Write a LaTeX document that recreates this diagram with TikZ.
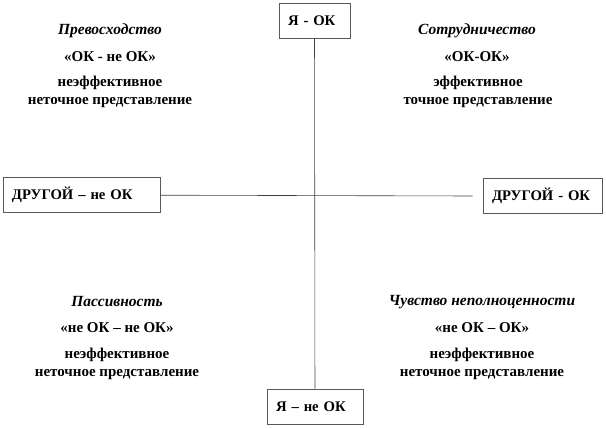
\documentclass[tikz,border=0pt]{standalone}
\usepackage{fontspec}
\setmainfont{Liberation Serif}
\usepackage{tikz}
\usetikzlibrary{positioning}

\begin{document}
\begin{tikzpicture}[
    x=1pt, y=-1pt,
    box/.style={draw=black!65, line width=0.6pt, minimum height=35pt, inner xsep=9pt, align=left, font=\bfseries\fontsize{14.7}{16}\selectfont},
    title/.style={font=\bfseries\itshape\fontsize{15.5}{17}\selectfont},
    motto/.style={font=\bfseries\fontsize{15}{17}\selectfont},
    desc/.style={align=center, font=\bfseries\fontsize{15}{18}\selectfont},
    axis/.style={line width=0.6pt, black!75}
]
    \useasboundingbox (0,0) rectangle (606,428);

    % Axis boxes
    \node[box, text width=53pt] (meok) at (314.5,21) {Я - ОК};
    \node[box, text width=78pt] (menotok) at (315,406.5) {Я – не ОК};
    \node[box, text width=139pt] (othernotok) at (81.5,195) {ДРУГОЙ – не ОК};
    \node[box, text width=101pt] (otherok) at (542.5,196) {ДРУГОЙ - ОК};

    % Axes
    \coordinate[left=10pt of otherok] (gap);
    \draw[axis] (meok) -- (menotok);
    \draw[axis] (othernotok) -- (gap);

    % Upper left
    \node[title] (superior) at (110,31) {Превосходство};
    \node[motto] (superiorm) at (110,57) {«ОК - не ОК»};
    \node[desc] (superiord) at (110,92) {неэффективное\\неточное представление};

    % Upper right
    \node[title] (cooperation) at (477,31) {Сотрудничество};
    \node[motto] (cooperationm) at (477,57) {«ОК-ОК»};
    \node[desc] (cooperationd) at (478,92) {эффективное\\точное представление};

    % Lower left
    \node[title] (passive) at (117,302) {Пассивность};
    \node[motto] (passivem) at (117,328) {«не ОК – не ОК»};
    \node[desc] (passived) at (117,364) {неэффективное\\неточное представление};

    % Lower right
    \node[title] (inferior) at (482,302) {Чувство неполноценности};
    \node[motto] (inferiorm) at (482,328) {«не ОК – ОК»};
    \node[desc] (inferiord) at (482,364) {неэффективное\\неточное представление};
\end{tikzpicture}
\end{document}
